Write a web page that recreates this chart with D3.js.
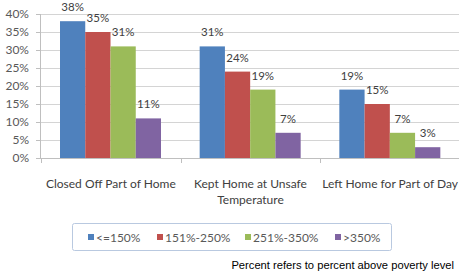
<!DOCTYPE html>
<html>
<head>
<meta charset="utf-8">
<script src="https://cdn.jsdelivr.net/npm/d3@7"></script>
<style>
  body { margin: 0; background: #fff; }
  svg text { font-family: Lato, "Open Sans", sans-serif; }
</style>
</head>
<body>
<script>
const categories = [["Closed Off Part of Home"], ["Kept Home at Unsafe", "Temperature"], ["Left Home for Part of Day"]];
const seriesNames = ["<=150%", "151%-250%", "251%-350%", ">350%"];
const closedOff = [38, 35, 31, 11];
const keptHome = [31, 24, 19, 7];
const leftHome = [19, 15, 7, 3];
const yTicks = [0, 5, 10, 15, 20, 25, 30, 35, 40];
const colors = ["#4F81BD", "#C0504D", "#9BBB59", "#8064A2"];

let width = 459;
let height = 274;

let rows = [closedOff, keptHome, leftHome];

let svg = d3.select("body").append("svg")
  .attr("width", width)
  .attr("height", height);

// scales
let xScale = d3.scaleBand().domain([0, 1, 2]).range([41, 460]);
let xInner = d3.scaleBand().domain([0, 1, 2, 3]).range([0, 101]);
let yScale = d3.scaleLinear().domain([0, 40]).range([158, 14]);

// gridlines
svg.append("g").selectAll("line")
  .data(yTicks)
  .enter().append("line")
  .attr("x1", 41).attr("x2", width)
  .attr("y1", d => yScale(d) + 0.5).attr("y2", d => yScale(d) + 0.5)
  .attr("stroke", "#d4d4d4");

// y labels
svg.append("g").selectAll("text")
  .data(yTicks)
  .enter().append("text")
  .attr("x", 29).attr("y", d => yScale(d) + 4)
  .attr("text-anchor", "end")
  .attr("font-size", "12px")
  .attr("fill", "#595959")
  .text(d => d + "%");

// y axis line + ticks
svg.append("line")
  .attr("x1", 40.5).attr("x2", 40.5).attr("y1", 14).attr("y2", 158)
  .attr("stroke", "#bfbfbf");
svg.append("g").selectAll("line")
  .data(yTicks)
  .enter().append("line")
  .attr("x1", 36).attr("x2", 41)
  .attr("y1", d => yScale(d) + 0.5).attr("y2", d => yScale(d) + 0.5)
  .attr("stroke", "#bfbfbf");

// x axis
svg.append("line")
  .attr("x1", 40).attr("x2", width).attr("y1", 158.5).attr("y2", 158.5)
  .attr("stroke", "#bfbfbf");
svg.append("g").selectAll("line")
  .data([0, 1, 2, 3])
  .enter().append("line")
  .attr("x1", d => Math.round(41 + d * xScale.bandwidth()) + 0.5)
  .attr("x2", d => Math.round(41 + d * xScale.bandwidth()) + 0.5)
  .attr("y1", 158).attr("y2", 163)
  .attr("stroke", "#bfbfbf");

// bars
let groups = svg.selectAll(".grp")
  .data(rows)
  .enter().append("g")
  .attr("class", "grp")
  .attr("transform", (d, i) => "translate(" + (xScale(i) + 19) + ",0)");

groups.selectAll("rect")
  .data(d => d)
  .enter().append("rect")
  .attr("x", (d, i) => xInner(i))
  .attr("y", d => yScale(d))
  .attr("width", xInner.bandwidth())
  .attr("height", d => yScale(0) - yScale(d))
  .attr("fill", (d, i) => colors[i]);

groups.selectAll(".lbl")
  .data(d => d)
  .enter().append("text")
  .attr("class", "lbl")
  .attr("x", (d, i) => xInner(i) + xInner.bandwidth() / 2)
  .attr("y", d => yScale(d) - 10)
  .attr("text-anchor", "middle")
  .attr("font-size", "11.5px")
  .attr("fill", "#404040")
  .text(d => d + "%");

// category labels
svg.selectAll(".cat")
  .data(categories)
  .enter().append("text")
  .attr("class", "cat")
  .attr("x", (d, i) => xScale(i) + xScale.bandwidth() / 2)
  .attr("y", 188)
  .attr("text-anchor", "middle")
  .attr("font-size", "12px")
  .attr("fill", "#404040")
  .selectAll("tspan")
  .data(d => d)
  .enter().append("tspan")
  .attr("x", function () { return this.parentNode.getAttribute("x"); })
  .attr("dy", (d, i) => i == 0 ? 0 : 16)
  .text(d => d);

// legend
let legend = svg.append("g");
legend.append("rect")
  .attr("x", 72.5).attr("y", 223.5)
  .attr("width", 319).attr("height", 27)
  .attr("rx", 2)
  .attr("fill", "#fff")
  .attr("stroke", "#b9c9e0");

let legendX = [88, 157, 245, 335];
let items = legend.selectAll(".item")
  .data(seriesNames)
  .enter().append("g")
  .attr("class", "item")
  .attr("transform", (d, i) => "translate(" + legendX[i] + ",237)");
items.append("rect")
  .attr("x", 0).attr("y", -3)
  .attr("width", 6).attr("height", 6)
  .attr("fill", (d, i) => colors[i]);
items.append("text")
  .attr("x", 8).attr("y", 4.5)
  .attr("font-size", "12px")
  .attr("fill", "#595959")
  .text(d => d);

// footnote
svg.append("text")
  .attr("x", 454).attr("y", 269)
  .attr("text-anchor", "end")
  .style("font-family", "'Liberation Sans', Arial, sans-serif")
  .attr("font-size", "11.2px")
  .attr("fill", "#000")
  .text("Percent refers to percent above poverty level");
</script>
</body>
</html>
